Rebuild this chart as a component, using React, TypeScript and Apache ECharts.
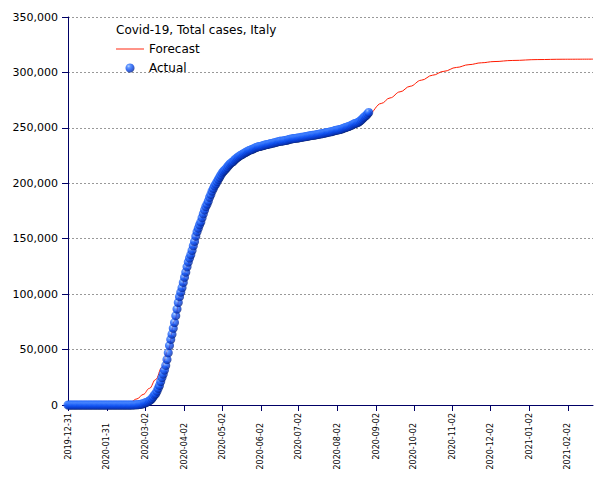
import React, { useEffect, useRef } from "react";
import * as echarts from "echarts";

const chartTitle = "Covid-19, Total cases, Italy";
const seriesNames = ["Forecast", "Actual"];
const startDate = "2019-12-31";
const axisEndDate = "2021-02-22";
const tickLabels = [
  "2019-12-31", "2020-01-31", "2020-03-02", "2020-04-02", "2020-05-02",
  "2020-06-02", "2020-07-02", "2020-08-02", "2020-09-02", "2020-10-02",
  "2020-11-02", "2020-12-02", "2021-01-02", "2021-02-02",
];
const yMin = 0;
const yMax = 350000;
const yStep = 50000;

// Actual total cases, one value per day starting 2019-12-31
const actualValues = [
  // 2019-12-31 .. 2020-02-20
  0, 0, 0, 0, 0, 0, 0, 0, 0, 0, 0, 0, 0, 0, 0, 0, 0, 0, 0, 0, 0, 0, 0, 0, 0, 0,
  0, 0, 0, 0, 0, 0, 0, 0, 0, 0, 0, 0, 0, 0, 0, 0, 0, 0, 0, 0, 0, 0, 0, 0, 0, 0,
  // Feb 21 .. Feb 29
  20, 79, 150, 229, 322, 400, 650, 888, 1128,
  // March
  1694, 2036, 2502, 3089, 3858, 4636, 5883, 7375, 9172, 10149, 12462, 15113, 17660,
  21157, 24747, 27980, 31506, 35713, 41035, 47021, 53578, 59138, 63927, 69176, 74386,
  80539, 86498, 92472, 97689, 101739, 105792,
  // April
  110574, 115242, 119827, 124632, 128948, 132547, 135586, 139422, 143626, 147577,
  152271, 156363, 159516, 162488, 165155, 168941, 172434, 175925, 178972, 181228,
  183957, 187327, 189973, 192994, 195351, 197675, 199414, 201505, 203591, 205463,
  // May
  207428, 209328, 210717, 211938, 213013, 214457, 215858, 217185, 218268, 219070,
  219814, 221216, 222104, 223096, 223885, 224760, 225435, 225886, 226699, 227364,
  228006, 228658, 229327, 229858, 230158, 230555, 231139, 231732, 232248, 232664, 233019,
  // June
  233197, 233515, 233836, 234013, 234531, 234801, 234998, 235278, 235561, 235763,
  236142, 236305, 236651, 236989, 237290, 237500, 237828, 238159, 238011, 238275,
  238499, 238720, 238833, 239410, 239706, 239961, 240136, 240310, 240436, 240578,
  // July
  240760, 240961, 241184, 241419, 241611, 241819, 241956, 242149, 242363, 242639,
  242827, 243061, 243230, 243344, 243506, 243736, 243967, 244216, 244434, 244624,
  244752, 245032, 245338, 245590, 245864, 246118, 246286, 246488, 246776, 247158, 247537,
  // August 1 .. 27
  247832, 248070, 248229, 248419, 248803, 249204, 249756, 250103, 250566, 250825,
  251237, 251713, 252235, 252809, 253438, 253915, 254235, 254636, 255278, 256118,
  257065, 258136, 259345, 260298, 261174, 262540, 263949,
];

// Forecast (day index from 2019-12-31)
const forecastDays = [
  0, 35, 40, 45, 50, 55, 60, 65, 70, 75, 80, 85, 90, 95, 100, 105, 110, 115, 120,
  125, 130, 140, 150, 160, 170, 180, 190, 200, 210, 220, 230, 240, 250, 257, 265,
  273, 282, 291, 300, 310, 320, 330, 340, 355, 375, 395, 419,
];
const forecastValues = [
  0, 0, 300, 1000, 2800, 5500, 9500, 15000, 23000, 34000, 50000, 76000, 102000,
  125000, 145000, 163000, 180000, 194000, 205000, 213500, 219500, 227000, 231500,
  234500, 236500, 238000, 239800, 241800, 244500, 248500, 254500, 262500, 272000,
  277000, 282500, 287500, 293000, 297500, 301000, 304500, 307000, 308700, 309800,
  310800, 311600, 311900, 312000,
];

const DAY = 86400000;
const dayIndex = (d: string) => Math.round((Date.parse(d) - Date.parse(startDate)) / DAY);

export default function App() {
  const ref = useRef<HTMLDivElement>(null);
  useEffect(() => {
    if (!ref.current) return;
    const chart = echarts.init(ref.current, null, { renderer: "svg" });
    const tickDays = tickLabels.map(dayIndex);
    const labelByDay: Record<number, string> = {};
    tickLabels.forEach((l, i) => (labelByDay[tickDays[i]] = l));
    const evenDays = tickDays.filter((_, i) => i % 2 === 0);
    const oddDays = tickDays.filter((_, i) => i % 2 === 1);
    const font = "DejaVu Sans";
    const axisColor = "#000066";
    const xMax = dayIndex(axisEndDate);
    const dotColor = new echarts.graphic.RadialGradient(0.35, 0.3, 0.75, [
      { offset: 0, color: "#a8ccff" },
      { offset: 0.25, color: "#3a7cff" },
      { offset: 0.55, color: "#0d4ff0" },
      { offset: 0.85, color: "#0830b0" },
      { offset: 1, color: "#001a66" },
    ]);
    const labelBase = {
      rotate: 90,
      fontSize: 8,
      fontFamily: font,
      color: "#000",
      formatter: (v: number) => labelByDay[Math.round(v)] || "",
    };
    chart.setOption({
      animation: false,
      backgroundColor: "#ffffff",
      textStyle: { fontFamily: font },
      title: {
        text: chartTitle,
        left: 116,
        top: 24,
        padding: 0,
        textStyle: { fontFamily: font, fontSize: 12, fontWeight: "normal", color: "#000" },
      },
      legend: {
        orient: "vertical",
        left: 116,
        top: 43,
        padding: 0,
        itemWidth: 28,
        itemHeight: 9,
        itemGap: 7,
        textStyle: { fontFamily: font, fontSize: 12, color: "#000" },
        data: [
          { name: seriesNames[0], icon: "path://M0 0H30V1H0Z" },
          { name: seriesNames[1] },
        ],
      },
      grid: { left: 68, right: 12, top: 17, bottom: 75, containLabel: false, outerBoundsMode: "none" },
      xAxis: [
        {
          type: "value",
          min: 0,
          max: xMax,
          splitLine: { show: false },
          axisLine: { lineStyle: { color: axisColor, width: 1 } },
          axisTick: { show: true, length: 6, customValues: tickDays, lineStyle: { color: axisColor } },
          axisLabel: { ...labelBase, customValues: evenDays, margin: 8 },
        },
        {
          type: "value",
          position: "bottom",
          min: 0,
          max: xMax,
          splitLine: { show: false },
          axisLine: { show: false },
          axisTick: { show: false },
          axisLabel: { ...labelBase, customValues: oddDays, margin: 18 },
        },
      ],
      yAxis: {
        type: "value",
        min: yMin,
        max: yMax,
        interval: yStep,
        axisLine: { show: true, lineStyle: { color: axisColor, width: 1 } },
        axisTick: { show: true, length: 6, lineStyle: { color: axisColor } },
        axisLabel: {
          margin: 10,
          fontSize: 11,
          fontFamily: font,
          color: "#000",
          formatter: (v: number) => v.toLocaleString("en-US"),
        },
        splitLine: { show: true, lineStyle: { color: "#999999", type: [2, 2], width: 1 } },
      },
      series: [
        {
          name: seriesNames[0],
          type: "line",
          xAxisIndex: 0,
          data: forecastDays.map((d, i) => [d, forecastValues[i]]),
          showSymbol: false,
          symbol: "none",
          smooth: 0.4,
          smoothMonotone: "x",
          lineStyle: { color: "#ff1a00", width: 1 },
          itemStyle: { color: "#ff1a00" },
          z: 2,
        },
        {
          name: seriesNames[1],
          type: "scatter",
          xAxisIndex: 0,
          data: actualValues.map((v, i) => [i, v]),
          symbol: "circle",
          symbolSize: 9,
          itemStyle: { color: dotColor },
          z: 3,
        },
      ],
    });
    return () => chart.dispose();
  }, []);
  return (
    <div
      ref={ref}
      style={{ position: "fixed", left: 0, top: 0, width: 605, height: 480, background: "#fff" }}
    />
  );
}
